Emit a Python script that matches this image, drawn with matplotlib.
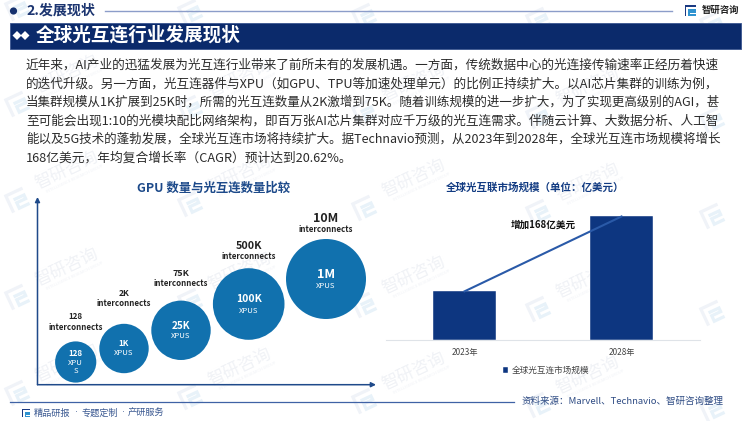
import matplotlib
matplotlib.use("Agg")
import matplotlib.pyplot as plt
from matplotlib.patches import Circle, Rectangle, Polygon
from matplotlib.transforms import Affine2D

plt.rcParams["font.family"] = ["Noto Sans CJK SC", "DejaVu Sans"]

# text
section = "2.发展现状"
banner = "全球光互连行业发展现状"
brand = "智研咨询"
body_lines = [
    "近年来，AI产业的迅猛发展为光互连行业带来了前所未有的发展机遇。一方面，传统数据中心的光连接传输速率正经历着快速",
    "的迭代升级。另一方面，光互连器件与XPU（如GPU、TPU等加速处理单元）的比例正持续扩大。以AI芯片集群的训练为例，",
    "当集群规模从1K扩展到25K时，所需的光互连数量从2K激增到75K。随着训练规模的进一步扩大，为了实现更高级别的AGI，甚",
    "至可能会出现1:10的光模块配比网络架构，即百万张AI芯片集群对应千万级的光互连需求。伴随云计算、大数据分析、人工智",
    "能以及5G技术的蓬勃发展，全球光互连市场将持续扩大。据Technavio预测，从2023年到2028年，全球光互连市场规模将增长",
    "168亿美元，年均复合增长率（CAGR）预计达到20.62%。",
]
left_title = "GPU 数量与光互连数量比较"
right_title = "全球光互联市场规模（单位：亿美元）"
footer_left = ["精品研报", "专题定制", "产研服务"]
footer_right = "资料来源：Marvell、Technavio、智研咨询整理"

# bubble chart, read in pixels off the picture
bubble_x = [75.7, 124, 181, 248.7, 326]
bubble_y = [362, 348.5, 330.3, 304, 279]
bubble_r = [20.6, 24.7, 29.7, 35.8, 40]
xpu_labels = ["128", "1K", "25K", "100K", "1M"]
xpu_units = ["XPU\nS", "XPUS", "XPUS", "XPUS", "XPUS"]
link_labels = ["128", "2K", "75K", "500K", "10M"]
label_px = [8, 8.5, 9, 10.7, 12.5]
inner_px = [8, 8.2, 10, 10.4, 12.7]
label_gap = [14.3, 20, 17, 12, 10]
unit_gap = [9.5, 4.8, 5.7, 6.7, 6.8]

# bar chart
years = ["2023年", "2028年"]
market = [108, 276]
market_name = "全球光互连市场规模"
growth_note = "增加168亿美元"

# watermark grid
wm_cols = [17, 190, 364, 538, 712]
wm_rows = [8, 104, 200, 297, 393]

NAVY = "#0b2a6b"
BLUE = "#1171ae"
BAR = "#0d3680"


def px(size):
    return size * 72 / 100


def logo(ax, cx, cy, scale, angle, c1, c2, z):
    # the two interlocking brackets of the brand mark (y runs downward here)
    tr = Affine2D().scale(scale).rotate_deg(angle).translate(cx, cy) + ax.transData
    outer = [(-5, -5), (5, -5), (5, -3.4), (-3.4, -3.4), (-3.4, 5), (-5, 5)]
    inner = [(-1.5, -1.6), (5, -1.6), (5, 2), (0.1, 2), (0.1, 3.4), (5, 3.4), (5, 5), (-1.5, 5),
             (-1.5, 0.4), (3.4, 0.4), (3.4, 0), (-1.5, 0)]
    ax.add_patch(Polygon(outer, closed=True, fc=c1, ec="none", transform=tr, zorder=z))
    ax.add_patch(Polygon(inner, closed=True, fc=c2, ec="none", transform=tr, zorder=z))


fig = plt.figure(figsize=(7.5, 4.21), dpi=100, facecolor="white")
ax = fig.add_axes([0, 0, 1, 1])
ax.set_xlim(0, 750)
ax.set_ylim(421, 0)
ax.axis("off")

# watermark, text only where it fits on the page
for i, wx in enumerate(wm_cols):
    for j, wy in enumerate(wm_rows):
        x0 = wx
        y0 = wy + i * 4
        logo(ax, x0, y0, 2.0, -25, "#f0f3f8", "#e8f2f9", 0)
        if j == 0 or i == len(wm_cols) - 1:
            continue
        ax.text(x0 + 50, y0 - 30, brand, fontsize=px(17), color="#f0f2f6", rotation=25,
                ha="center", va="center", rotation_mode="anchor", zorder=0)
        ax.text(x0 + 58, y0 - 21, "INTELLIGENCE RESEARCH GROUP", fontsize=px(4), color="#f1f3f7",
                rotation=25, ha="center", va="center", rotation_mode="anchor", zorder=0)

# header
ax.add_patch(Circle((13.5, 11), 3.6, fc="#14306e", ec="none", zorder=2))
ax.text(26, 11, section, fontsize=px(14), fontweight="bold", color="#1c3570", va="center", zorder=3)
ax.plot([105, 672], [10.5, 10.5], color="#8c9dc9", lw=1, zorder=2)
logo(ax, 690, 10.5, 1.1, 0, "#1b3a82", "#2f93d0", 3)
ax.text(702, 9.5, brand, fontsize=px(9.4), fontweight="bold", color="#222222", va="center", zorder=3)

# banner
ax.add_patch(Rectangle((9.5, 22.5), 731, 26, fc=NAVY, ec="#3a5590", lw=0.6, zorder=2))
for dx in (17, 25):
    ax.add_patch(Polygon([(dx - 4.5, 35.5), (dx, 31), (dx + 4.5, 35.5), (dx, 40)], closed=True, fc="white",
                         ec="none", zorder=3))
ax.text(36, 35.5, banner, fontsize=px(18.6), fontweight="bold", color="white", va="center", zorder=3)

# paragraph, stretched to the full column like the justified original
renderer = fig.canvas.get_renderer()
for i, line in enumerate(body_lines):
    t = ax.text(26, 65 + i * 18.6, line, fontsize=px(12.7), color="#2b2b2b", va="center", zorder=3)
    if i < len(body_lines) - 1:
        w = t.get_window_extent(renderer).width
        t.set_fontsize(t.get_fontsize() * 697 / w)

# left chart
ax.text(214, 188, left_title, fontsize=px(12.4), fontweight="bold", color="#1d4a8a", ha="center", va="center", zorder=3)
for end in [(37.5, 197), (376, 384.7)]:
    ax.annotate("", xy=end, xytext=(37.5, 384.7), zorder=3,
                arrowprops=dict(arrowstyle="-|>", color="#1f4a8a", lw=1.1, shrinkA=0, shrinkB=0, mutation_scale=7))
for x, y, r, top, unit, link, lp, ip, gap, ug in zip(bubble_x, bubble_y, bubble_r, xpu_labels, xpu_units,
                                                     link_labels, label_px, inner_px, label_gap, unit_gap):
    ax.add_patch(Circle((x, y), r, fc=BLUE, ec="none", zorder=2))
    if "\n" in unit:
        ax.text(x, y - 8.7, top, fontsize=px(ip), fontweight="bold", color="white", ha="center", va="center", zorder=3)
        ax.text(x, y + ug - 4.5, unit, fontsize=px(7.7), color="white", ha="center", va="center", linespacing=1.05, zorder=3)
    else:
        ax.text(x, y - 4.7, top, fontsize=px(ip), fontweight="bold", color="white", ha="center", va="center", zorder=3)
        ax.text(x, y + ug, unit, fontsize=px(7.7), color="white", ha="center", va="center", zorder=3)
    ax.text(x, y - r - gap, "interconnects", fontsize=px(7.9), fontweight="bold", color="#222222", ha="center", va="center", zorder=3)
    ax.text(x, y - r - gap - 10.5, link, fontsize=px(lp), fontweight="bold", color="#222222", ha="center", va="center", zorder=3)

# right chart
ax.text(535, 188, right_title, fontsize=px(10.5), fontweight="bold", color="#123b82", ha="center", va="center", zorder=3)
bar_ax = fig.add_axes([386 / 750, 1 - 339.5 / 421, 314 / 750, 139.5 / 421])
bar_ax.patch.set_alpha(0)
bar_ax.bar(range(len(years)), market, width=0.395, color=BAR, edgecolor="white", linewidth=0.3, label=market_name, zorder=2)
bar_ax.plot(range(len(years)), market, color="#2a5aa8", lw=1.5, zorder=3)
bar_ax.set_xlim(-0.5, 1.5)
bar_ax.set_ylim(0, 313)
bar_ax.set_xticks(range(len(years)), years)
bar_ax.set_yticks([])
bar_ax.tick_params(axis="x", length=0, labelsize=px(8.2), labelcolor="#444444", pad=6)
for side in ("top", "right", "left"):
    bar_ax.spines[side].set_visible(False)
bar_ax.spines["bottom"].set_color("#dfe3e8")
bar_ax.legend(loc="center", bbox_to_anchor=(0.51, -0.224), frameon=False, handlelength=0.65, handleheight=0.65,
              handletextpad=0.4, fontsize=px(8.6), labelcolor="#444444", borderpad=0)
ax.text(543, 225, growth_note, fontsize=px(9.6), fontweight="bold", color="#111111", ha="center", va="center", zorder=5)

# footer
ax.plot([10, 514], [402.3, 402.3], color="#3f62a5", lw=0.9, zorder=2)
logo(ax, 26, 413, 0.85, 0, "#1b3a82", "#2f93d0", 3)
for fx, part in zip((34, 81.7, 127.5), footer_left):
    ax.text(fx, 413, part, fontsize=px(9.2), color="#3c5a92", va="center", zorder=3)
for fx in (76.5, 123):
    ax.text(fx, 413, "·", fontsize=px(9.2), family="DejaVu Sans", color="#3c5a92", ha="center", va="center", zorder=3)
ax.text(724, 401.5, footer_right, fontsize=px(9.5), color="#2f4c84", ha="right", va="center", zorder=3)

fig.savefig("out.png", dpi=100)
